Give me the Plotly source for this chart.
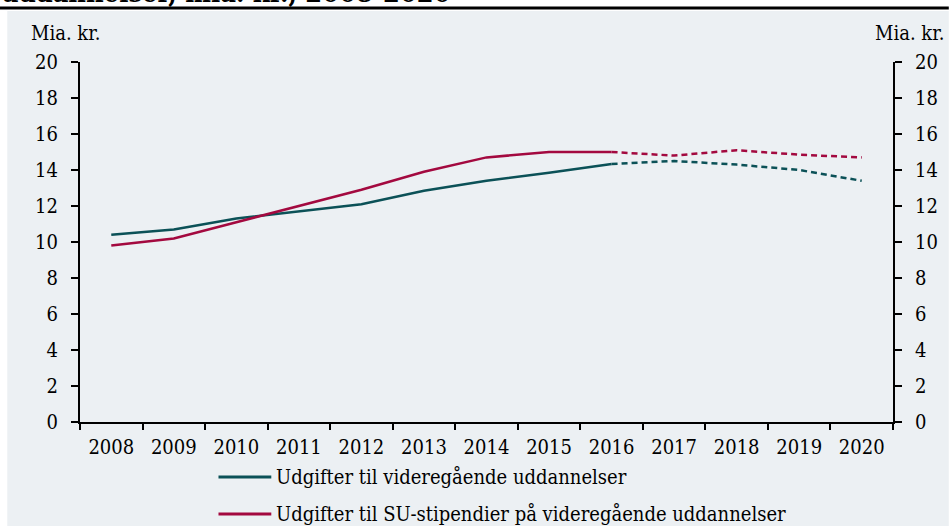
import plotly.graph_objects as go

years = ["2008", "2009", "2010", "2011", "2012", "2013", "2014",
         "2015", "2016", "2017", "2018", "2019", "2020"]
udgifter_vu = [10.4, 10.7, 11.3, 11.7, 12.1, 12.85, 13.4, 13.85, 14.33, 14.5, 14.3, 14.0, 13.4]
udgifter_su = [9.8, 10.2, 11.1, 12.0, 12.9, 13.9, 14.7, 15.0, 15.0, 14.8, 15.1, 14.85, 14.7]
y_ticks = [0, 2, 4, 6, 8, 10, 12, 14, 16, 18, 20]
name_vu = "Udgifter til videregående uddannelser"
name_su = "Udgifter til SU-stipendier på videregående uddannelser"
unit = "Mia. kr."
title_txt = "uddannelser, mia. kr., 2008-2020"

GREEN = "#0B5157"
RED = "#A3093F"
BG = "#ECF0F3"
FONT = "DejaVu Serif Condensed"
FS = 20
split = years.index("2016")

fig = go.Figure()
for vals, col, nm in [(udgifter_vu, GREEN, name_vu), (udgifter_su, RED, name_su)]:
    fig.add_trace(go.Scatter(x=years[:split + 1], y=vals[:split + 1], mode="lines",
                             line=dict(color=col, width=2.5), name=nm, showlegend=False))
    fig.add_trace(go.Scatter(x=years[split:], y=vals[split:], mode="lines",
                             line=dict(color=col, width=2.5, dash="6px,4px"),
                             showlegend=False))
# invisible trace for the right axis
fig.add_trace(go.Scatter(x=years, y=udgifter_vu, yaxis="y2", mode="lines",
                         line=dict(width=0), opacity=0, showlegend=False, hoverinfo="skip"))

L, R, T, B = 80, 54, 62, 109
W, H = 950, 531
pw, ph = W - L - R, H - T - B


def px(x):
    return (x - L) / pw


def py(y):
    return (H - B - y) / ph


shapes = [
    dict(type="rect", xref="paper", yref="paper", x0=px(7), x1=px(952), y0=py(526), y1=py(11),
         fillcolor=BG, line=dict(width=0), layer="below"),
    dict(type="line", xref="paper", yref="paper", x0=px(-2), x1=px(952), y0=py(8), y1=py(8),
         line=dict(color="black", width=3)),
]
annotations = [
    dict(text="<b>" + title_txt + "</b>", xref="paper", yref="paper", x=px(-1), y=py(10),
         xanchor="left", yanchor="bottom", showarrow=False,
         font=dict(family=FONT, size=27, color="black")),
    dict(text=unit, xref="paper", yref="paper", x=px(29), y=py(33), xanchor="left",
         yanchor="middle", showarrow=False, font=dict(family=FONT, size=FS, color="black")),
    dict(text=unit, xref="paper", yref="paper", x=px(949), y=py(33), xanchor="right",
         yanchor="middle", showarrow=False, font=dict(family=FONT, size=FS, color="black")),
]
for nm, col, yy in [(name_vu, GREEN, 477), (name_su, RED, 514)]:
    shapes.append(dict(type="line", xref="paper", yref="paper", x0=px(219), x1=px(272),
                       y0=py(yy), y1=py(yy), line=dict(color=col, width=3)))
    annotations.append(dict(text=nm, xref="paper", yref="paper", x=px(275), y=py(yy),
                            xanchor="left", yanchor="middle", showarrow=False,
                            font=dict(family=FONT, size=FS, color="black")))

yax = dict(range=[0, 20], tickvals=y_ticks, showgrid=False, zeroline=False,
           showline=True, linecolor="black", linewidth=2, ticks="outside",
           ticklen=7, tickwidth=2, tickcolor="black", ticklabelstandoff=9,
           tickfont=dict(family=FONT, size=FS, color="black"))

fig.update_layout(
    width=W, height=H,
    margin=dict(l=L, r=R, t=T, b=B, pad=0),
    paper_bgcolor="white", plot_bgcolor=BG,
    font=dict(family=FONT, size=FS, color="black"),
    showlegend=False,
    xaxis=dict(type="category", range=[-0.5, 12.5], tickson="boundaries", showgrid=False,
               showline=True, linecolor="black", linewidth=2, ticks="outside",
               ticklen=6, tickwidth=2, tickcolor="black", zeroline=False,
               tickfont=dict(family=FONT, size=FS, color="black"), ticklabelstandoff=6),
    yaxis=yax,
    yaxis2=dict(yax, overlaying="y", side="right"),
    shapes=shapes,
    annotations=annotations,
)

fig.write_html("out.html", config={"displayModeBar": False},
               post_script="document.body.style.margin='0px';document.body.style.overflow='hidden';")
